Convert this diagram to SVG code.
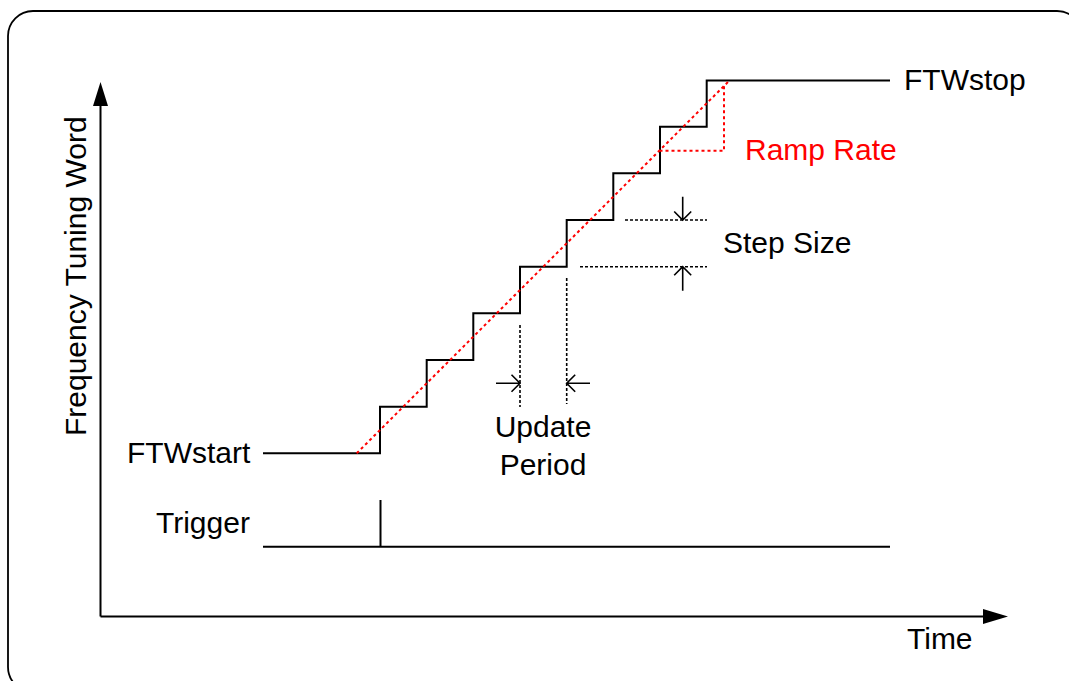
<svg xmlns="http://www.w3.org/2000/svg" width="1069" height="681" viewBox="0 0 1069 681">
<style>
text{font-family:"Liberation Sans",Arial,sans-serif;font-size:30px;fill:#000}
.red{fill:#ff0000}
.solid{fill:none;stroke:#000;stroke-width:2}
.dot{fill:none;stroke:#000;stroke-width:1.6;stroke-dasharray:3,2}
.rdot{fill:none;stroke:#ff0000;stroke-width:2;stroke-dasharray:3,3}
.arr{fill:none;stroke:#000;stroke-width:1.6}
</style>
<rect x="8" y="11" width="1074" height="681" rx="25" ry="25" fill="#fff" stroke="#000" stroke-width="1.8"/>
<g id="axes">
<line class="solid" x1="100.5" y1="616.5" x2="100.5" y2="100"/>
<polygon points="100.5,82 93,106 108,106" fill="#000"/>
<line class="solid" x1="100.5" y1="616.5" x2="988" y2="616.5"/>
<polygon points="1008,616.5 983,609 983,624" fill="#000"/>
</g>
<g id="labels">
<text transform="translate(86,436) rotate(-90)">Frequency Tuning Word</text>
<text x="907" y="649">Time</text>
<text x="127" y="463">FTWstart</text>
<text x="904" y="90">FTWstop</text>
<text x="156" y="533">Trigger</text>
<text class="red" x="745" y="160">Ramp Rate</text>
<text x="723" y="253">Step Size</text>
<text x="543" y="437" text-anchor="middle">Update</text>
<text x="543" y="475" text-anchor="middle">Period</text>
</g>
<g id="staircase">
<path class="solid" d="M263,453.3 H380 V406.7 H426.7 V360 H473.3 V313.3 H520 V266.7 H566.7 V220 H613.3 V173.3 H660 V126.7 H706.7 V80.5 H890"/>
</g>
<g id="trigger">
<path class="solid" d="M263,546.7 H890 M380.5,546.7 V500"/>
</g>
<g id="ramp">
<line class="rdot" x1="356.7" y1="453.3" x2="729.5" y2="80.5"/>
<path class="rdot" d="M659.5,150.7 H724 V86"/>
</g>
<g id="connectors">
<line class="dot" x1="625" y1="220" x2="707" y2="220"/>
<line class="dot" x1="580" y1="266.7" x2="707" y2="266.7"/>
<path class="arr" d="M682.7,196.7 V220 M674.2,211.5 L682.7,220 L691.2,211.5"/>
<path class="arr" d="M682.7,290.7 V266.7 M674.2,275.2 L682.7,266.7 L691.2,275.2"/>
<line class="dot" x1="520" y1="325" x2="520" y2="407"/>
<line class="dot" x1="566.7" y1="278" x2="566.7" y2="404"/>
<path class="arr" d="M496,383.3 H520 M511.5,374.8 L520,383.3 L511.5,391.8"/>
<path class="arr" d="M590,383.3 H566.7 M575.2,374.8 L566.7,383.3 L575.2,391.8"/>
</g>
</svg>
